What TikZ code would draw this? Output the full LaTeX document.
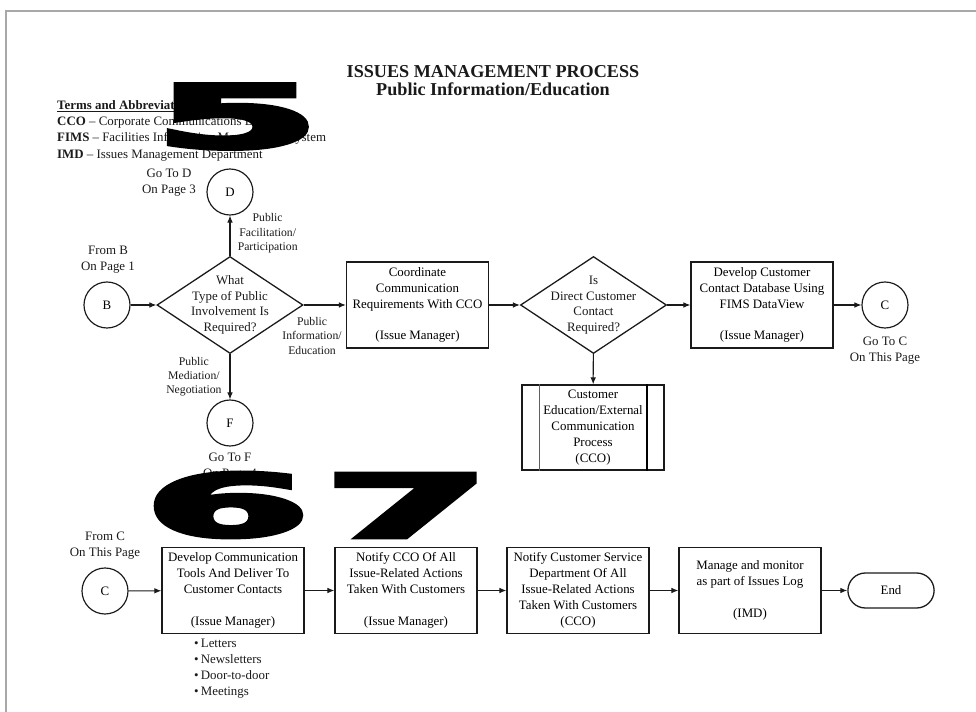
\documentclass[tikz,border=0pt]{standalone}
\usepackage{fontspec}
\setmainfont{Liberation Serif}
\newfontfamily\bignum{DejaVu Sans Bold}[FakeBold=5]
\usetikzlibrary{arrows.meta,shapes.geometric,shapes.misc}
\definecolor{frameGray}{HTML}{A8A8A8}
\definecolor{inkDark}{HTML}{1A1A1A}
\newcommand\boxfont{\fontsize{11}{13.6}\selectfont}
\newcommand\lblfont{\fontsize{10}{12}\selectfont}
\tikzset{
    % boxes, decisions and page connectors
    stepbox/.style={rectangle,draw=inkDark,line width=1.1pt,minimum width=4.26cm,minimum height=2.58cm,inner sep=2pt,align=center,font=\boxfont},
    decision/.style={diamond,draw=inkDark,line width=1.1pt,minimum width=4.38cm,minimum height=2.91cm,inner sep=0pt},
    conn/.style={circle,draw=inkDark,line width=1pt,minimum size=1.38cm,inner sep=0pt,font=\boxfont},
    % flow styles
    flow/.style={->,line width=0.9pt,inkDark,>={Latex[length=2.1mm,width=1.7mm]}},
    edgelbl/.style={font=\lblfont,align=center,text=inkDark},
    note/.style={font=\boxfont,align=center,text=inkDark}
}

\begin{document}
\begin{tikzpicture}[x=0.03cm,y=-0.03cm,bignumber/.style={inner sep=0pt,text=black},qtext/.style={note,font=\fontsize{11}{13.2}\selectfont}]
    \useasboundingbox (0,0) rectangle (976,712);
    \draw[frameGray,line width=2.4pt] (976,11) -- (6,11) -- (6,712);
    % Heading and terms
    \node[font=\fontsize{15.5}{15.5}\selectfont\bfseries,align=center,text=inkDark] at (493,81) (title) {ISSUES MANAGEMENT PROCESS\\Public Information/Education};
    \node[font=\fontsize{11}{14}\selectfont,align=left,anchor=north west,inner sep=0pt,text=inkDark] at (57,100) (terms) {\underline{\textbf{Terms and Abbreviations}}\\\textbf{CCO} -- Corporate Communications Department\\\textbf{FIMS} -- Facilities Information Management System\\\textbf{IMD} -- Issues Management Department};
    % Nodes (upper flow)
    \node[conn] at (107,305) (fromB) {B};
    \node[note] at (108,260) (fromBtxt) {From B\\On Page 1};
    \node[decision,label={[qtext]center:What\\Type of Public\\Involvement Is\\Required?}] at (230,305) (qtype) {};
    \node[conn] at (230,192) (goD) {D};
    \node[note] at (169,183) (goDtxt) {Go To D\\On Page 3};
    \node[conn] at (230,423) (goF) {F};
    \node[note] at (230,467) (goFtxt) {Go To F\\On Page 4};
    \node[stepbox] at (417.5,305) (coord) {Coordinate\\Communication\\Requirements With CCO\\[13.6pt](Issue Manager)};
    \node[decision,label={[qtext]center:Is\\Direct Customer\\Contact\\Required?}] at (593.5,305) (direct) {};
    \node[stepbox,minimum height=2.55cm] at (593,427.5) (cedu) {Customer\\Education/External\\Communication\\Process\\(CCO)};
    \draw[inkDark!70,line width=0.7pt] ([xshift=0.54cm]cedu.north west) -- ([xshift=0.54cm]cedu.south west);
    \draw[black,line width=1.5pt] ([xshift=-0.54cm]cedu.north east) -- ([xshift=-0.54cm]cedu.south east);
    \node[stepbox] at (762,305) (fims) {Develop Customer\\Contact Database Using\\FIMS DataView\\[13.6pt](Issue Manager)};
    \node[conn] at (885,305) (goC) {C};
    \node[note] at (885,351) (goCtxt) {Go To C\\On This Page};
    % Nodes (lower flow)
    \node[note] at (105,546) (fromCtxt) {From C\\On This Page};
    \node[conn] at (105,591) (fromC) {C};
    \node[stepbox] at (233,590.5) (tools) {Develop Communication\\Tools And Deliver To\\Customer Contacts\\[13.6pt](Issue Manager)};
    \node[font=\boxfont,align=left,anchor=north west,inner sep=0pt,text=inkDark] at (194,639) (media) {\textbullet\,Letters\\\textbullet\,Newsletters\\\textbullet\,Door-to-door\\\textbullet\,Meetings};
    \node[stepbox] at (406,590.5) (notify) {Notify CCO Of All\\Issue-Related Actions\\Taken With Customers\\[13.6pt](Issue Manager)};
    \node[stepbox] at (578,590.5) (svc) {Notify Customer Service\\Department Of All\\Issue-Related Actions\\Taken With Customers\\(CCO)};
    \node[stepbox] at (750,590.5) (manage) {Manage and monitor\\as part of Issues Log\\[13.6pt](IMD)};
    \node[rounded rectangle,draw=inkDark,line width=1.1pt,minimum width=2.82cm,minimum height=1.05cm,font=\boxfont] at (891,590.5) (finish) {End};
    % Arrows
    \draw[flow] (fromB) -- (qtype);
    \draw[flow] (qtype) -- node[edgelbl,right,xshift=0.1cm,yshift=0.075cm]{Public\\Facilitation/\\Participation} (goD);
    \draw[flow] (qtype) -- node[edgelbl,left,xshift=-0.12cm]{Public\\Mediation/\\Negotiation} (goF);
    \draw[flow] (qtype) -- node[edgelbl,below,xshift=-0.38cm,yshift=-0.25cm]{Public\\Information/\\Education} (coord);
    \draw[flow] (coord) -- (direct);
    \draw[flow] (direct) -- (cedu);
    \draw[flow] (direct) -- (fims);
    \draw[flow] (fims) -- (goC);
    \draw[flow] (fromC) -- (tools);
    \draw[flow] (tools) -- (notify);
    \draw[flow] (notify) -- (svc);
    \draw[flow] (svc) -- (manage);
    \draw[flow] (manage) -- (finish);
    % Page numbers on top
    \node[bignumber] at (237,116.5) (five) {\resizebox{4.95cm}{1.9cm}{\bignum 5}};
    \node[bignumber] at (227.5,505) (six) {\resizebox{4.95cm}{1.9cm}{\bignum 6}};
    \node[bignumber] at (407,505.5) (seven) {\resizebox{4.95cm}{1.9cm}{\bignum 7}};
\end{tikzpicture}
\end{document}
